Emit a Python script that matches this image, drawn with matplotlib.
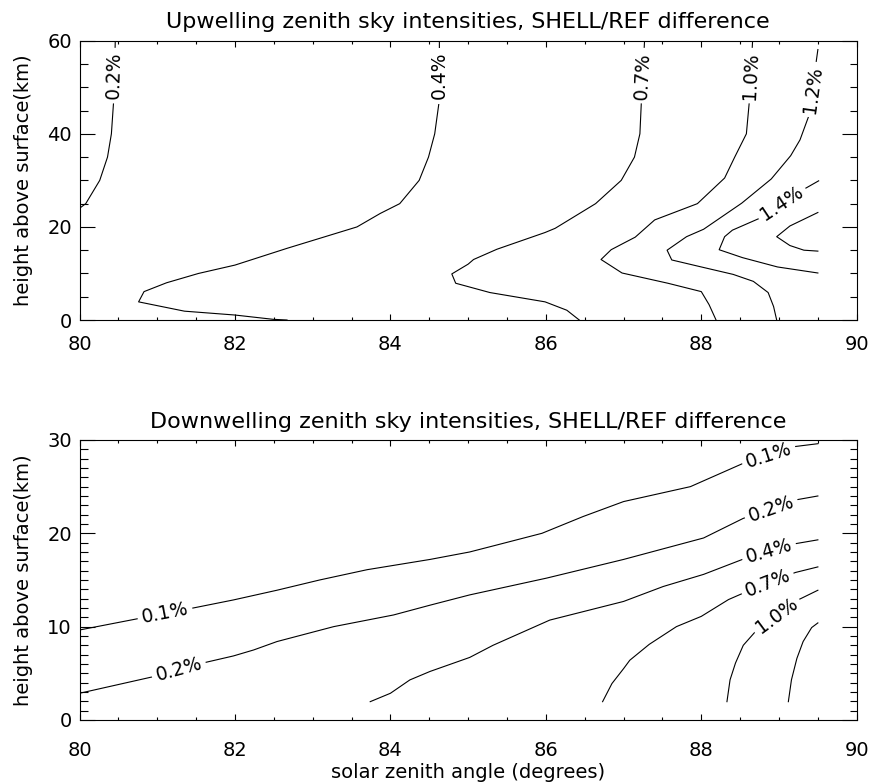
import matplotlib
matplotlib.use('Agg')
import matplotlib.pyplot as plt
from matplotlib.ticker import MultipleLocator
import numpy as np

plt.rcParams['font.family'] = 'DejaVu Sans'

# ---- upwelling panel: contour lines (sza deg, height km)
up_sza_02 = [80.46, 80.44, 80.41, 80.36, 80.26, 80.08, 80.0]
up_h_02 = [60, 47.3, 40, 35, 30, 25, 24]
up_sza_04 = [84.63, 84.63, 84.57, 84.49, 84.37, 84.12, 83.87, 83.57, 83.14, 82.67,
             82.0, 81.53, 81.12, 80.83, 80.76, 81.35, 82.0, 82.49, 82.67]
up_h_04 = [60, 47.3, 40, 35, 30, 25, 22.9, 20, 17.8, 15.4,
           11.8, 10, 8, 6.1, 3.9, 1.9, 1.07, 0.15, 0]
up_sza_07 = [87.27, 87.23, 87.21, 87.14, 86.97, 86.64, 86.12, 85.99, 85.37, 85.07,
             85.0, 84.79, 84.84, 85.28, 85.99, 86.27, 86.43]
up_h_07 = [60, 47.3, 40, 35, 30, 25, 19.7, 18.8, 15.2, 13.0,
           12.0, 9.9, 7.9, 5.9, 3.9, 2.1, 0]
up_sza_10 = [88.66, 88.62, 88.58, 88.43, 88.3, 87.95, 87.4, 87.15, 87.0, 86.84,
             86.71, 86.98, 87.57, 88.0, 88.1, 88.19]
up_h_10 = [60, 47.3, 40, 35, 30.5, 25, 21.5, 17.8, 16.5, 15.1,
           13.0, 10.1, 7.9, 6.1, 3.3, 0]
up_sza_12 = [89.5, 89.38, 89.27, 89.15, 88.9, 88.52, 88.03, 87.81, 87.56, 87.62,
             88.0, 88.41, 88.67, 88.86, 88.93, 88.97]
up_h_12 = [58.1, 43.7, 38.7, 35.3, 30.3, 25.1, 19.5, 17.9, 15.0, 12.9,
           11.4, 9.8, 8.3, 5.9, 2.9, 0]
up_sza_14 = [89.51, 89.31, 88.77, 88.4, 88.3, 88.23, 88.53, 88.98, 89.5]
up_h_14 = [29.9, 28.0, 22.0, 19.3, 17.9, 15.1, 13.4, 11.4, 10.1]
up_sza_16 = [89.5, 89.14, 88.97, 89.14, 89.32, 89.5]
up_h_16 = [23.1, 20.2, 17.9, 16.0, 15.0, 14.8]

# ---- downwelling panel
dn_sza_01 = [80.0, 80.78, 81.44, 81.98, 82.54, 83.09, 83.7, 84.51, 85.02, 85.37,
             85.95, 86.48, 87.0, 87.86, 88.54, 89.21, 89.5]
dn_h_01 = [9.64, 10.9, 11.96, 12.86, 13.9, 15.0, 16.1, 17.2, 18.0, 18.75,
           20.0, 21.8, 23.4, 25.0, 27.5, 29.3, 29.6]
dn_sza_02 = [80.0, 80.95, 81.57, 81.98, 82.24, 82.54, 83.27, 84.04, 84.51, 85.02,
             86.01, 87.0, 88.03, 88.54, 89.23, 89.5]
dn_h_02 = [2.86, 4.64, 6.07, 6.86, 7.5, 8.4, 10.0, 11.25, 12.3, 13.4,
           15.2, 17.2, 19.5, 21.6, 23.6, 24.0]
dn_sza_04 = [83.74, 84.0, 84.25, 84.51, 85.02, 85.32, 86.05, 87.0, 87.51, 88.03,
             88.56, 89.22, 89.5]
dn_h_04 = [1.96, 2.86, 4.29, 5.2, 6.7, 8.0, 10.7, 12.7, 14.3, 15.6,
           17.3, 18.9, 19.3]
dn_sza_07 = [86.73, 86.85, 87.0, 87.08, 87.33, 87.68, 88.0, 88.35, 88.57, 89.21, 89.5]
dn_h_07 = [1.96, 3.9, 5.5, 6.4, 8.1, 10.0, 11.1, 12.9, 13.7, 15.8, 16.4]
dn_sza_10 = [88.33, 88.37, 88.44, 88.54, 88.71, 89.23, 89.5]
dn_h_10 = [1.96, 4.3, 6.1, 8.0, 9.6, 12.8, 13.9]
dn_sza_12 = [89.12, 89.16, 89.23, 89.31, 89.42, 89.5]
dn_h_12 = [1.96, 4.3, 6.6, 8.4, 9.9, 10.4]


def label_line(ax, xs, ys, text, near):
    # put text on the line segment closest to `near`, rotated along it
    pts = ax.transData.transform(np.column_stack([xs, ys]))
    p = ax.transData.transform(near)
    best = None
    for i in range(len(pts) - 1):
        a, b = pts[i], pts[i + 1]
        d = b - a
        t = np.clip(np.dot(p - a, d) / np.dot(d, d), 0, 1)
        q = a + t * d
        dist = np.hypot(*(p - q))
        if best is None or dist < best[0]:
            best = (dist, q, d)
    _, q, d = best
    ang = np.degrees(np.arctan2(d[1], d[0]))
    while ang < -45:
        ang += 180
    while ang >= 135:
        ang -= 180
    x, y = ax.transData.inverted().transform(q)
    ax.text(x, y, text, rotation=ang, rotation_mode='anchor', ha='center',
            va='center', fontsize=13.5,
            bbox=dict(fc='white', ec='none', pad=3), zorder=2.2)


def style_axes(ax, ymajor, yminor, xpad):
    ax.set_xlim(80, 90)
    ax.xaxis.set_major_locator(MultipleLocator(2))
    ax.xaxis.set_minor_locator(MultipleLocator(0.5))
    ax.yaxis.set_major_locator(MultipleLocator(ymajor))
    ax.yaxis.set_minor_locator(MultipleLocator(yminor))
    ax.tick_params(which='both', direction='in', top=True, right=True,
                   width=0.8, labelsize=14)
    ax.xaxis.set_tick_params(which='major', length=4.3, pad=xpad)
    ax.xaxis.set_tick_params(which='minor', length=2.5)
    ax.yaxis.set_tick_params(which='major', length=10.8, pad=5.5)
    ax.yaxis.set_tick_params(which='minor', length=5.4)
    for s in ax.spines.values():
        s.set_linewidth(0.8)
    ax.set_ylabel('height above surface(km)', fontsize=14)
    ax.yaxis.set_label_coords(-0.06, 0.5)


fig = plt.figure(figsize=(8.72, 7.83), dpi=100)
ax1 = fig.add_axes([0.0912, 0.5913, 0.8913, 0.3567])
ax2 = fig.add_axes([0.0912, 0.0805, 0.8913, 0.3576])

# upwelling
style_axes(ax1, 20, 5, 10.5)
ax1.set_ylim(0, 60)
ax1.set_title('Upwelling zenith sky intensities, SHELL/REF difference',
              fontsize=16, pad=8.8)
up_lines = [(up_sza_02, up_h_02, '0.2%', (80.45, 52.5)),
            (up_sza_04, up_h_04, '0.4%', (84.63, 52.5)),
            (up_sza_07, up_h_07, '0.7%', (87.25, 52.5)),
            (up_sza_10, up_h_10, '1.0%', (88.64, 52.5)),
            (up_sza_12, up_h_12, '1.2%', (89.44, 49.5)),
            (up_sza_14, up_h_14, '1.4%', (89.04, 25.0)),
            (up_sza_16, up_h_16, None, None)]
for xs, ys, lab, pos in up_lines:
    ax1.plot(xs, ys, color='black', lw=0.8)
    if lab:
        label_line(ax1, xs, ys, lab, pos)

# downwelling
style_axes(ax2, 10, 1, 15.5)
ax2.set_ylim(0, 30)
ax2.set_title('Downwelling zenith sky intensities, SHELL/REF difference',
              fontsize=16, pad=8.8)
ax2.set_xlabel('solar zenith angle (degrees)', fontsize=14)
ax2.xaxis.set_label_coords(0.5, -0.152)
dn_lines = [(dn_sza_01, dn_h_01, [('0.1%', (81.1, 11.4)), ('0.1%', (88.87, 28.3))]),
            (dn_sza_02, dn_h_02, [('0.2%', (81.27, 5.6)), ('0.2%', (88.9, 22.6))]),
            (dn_sza_04, dn_h_04, [('0.4%', (88.87, 18.1))]),
            (dn_sza_07, dn_h_07, [('0.7%', (88.85, 14.7))]),
            (dn_sza_10, dn_h_10, [('1.0%', (88.97, 11.2))]),
            (dn_sza_12, dn_h_12, [])]
for xs, ys, labs in dn_lines:
    ax2.plot(xs, ys, color='black', lw=0.8)
    for lab, pos in labs:
        label_line(ax2, xs, ys, lab, pos)

fig.savefig('out.png', dpi=100)
